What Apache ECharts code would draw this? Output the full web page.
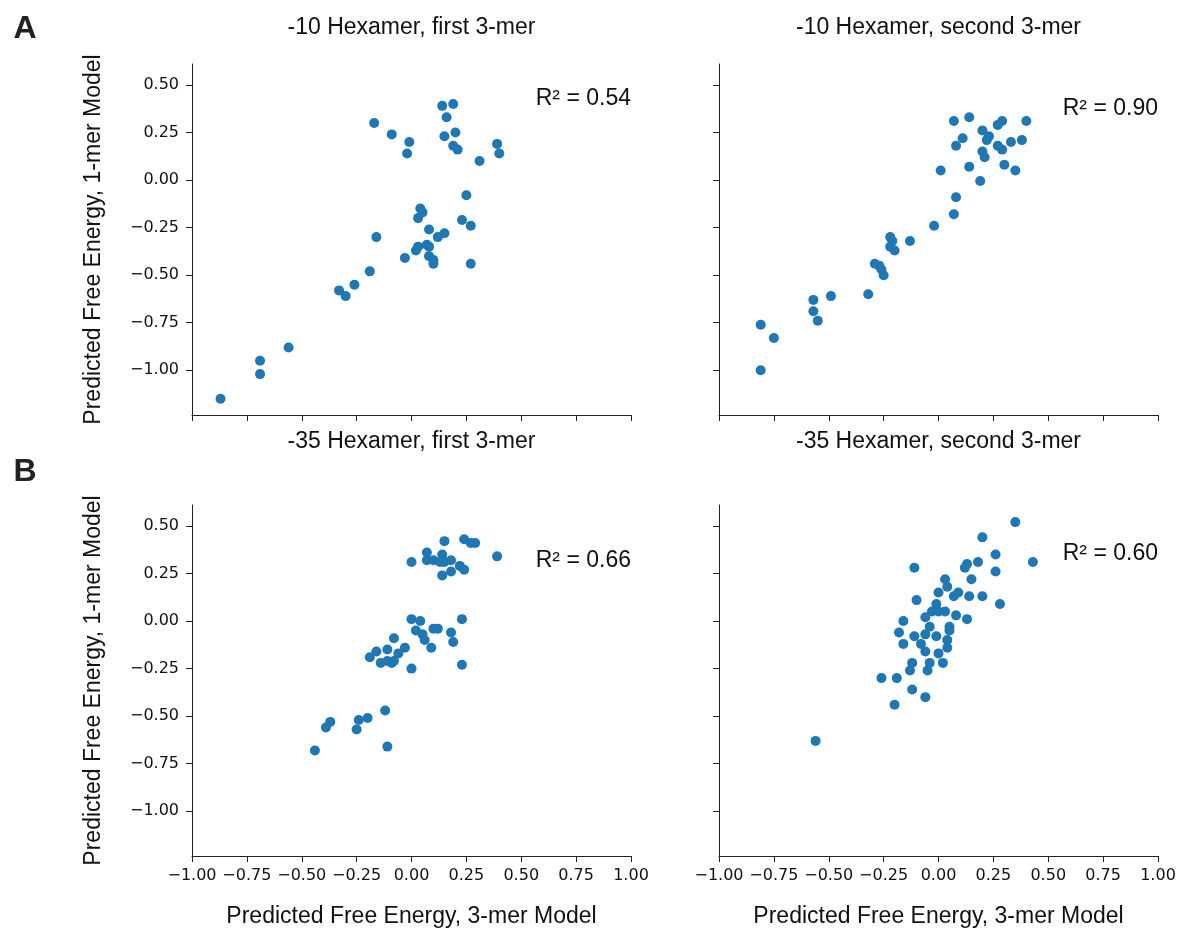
<!DOCTYPE html>
<html lang="en">

<head>
    <meta charset="UTF-8">
    <title>Hexamer 3-mer vs 1-mer</title>
    <script src="https://cdn.jsdelivr.net/npm/echarts@6/dist/echarts.min.js"></script>
    <style>
        body { margin: 0; background: #fff; }
    </style>
</head>

<body>
    <div id="main" style="width: 1180px;height:930px;"></div>

    <script>
        // panel titles and R² values
        var titles = ['-10 Hexamer, first 3-mer', '-10 Hexamer, second 3-mer', '-35 Hexamer, first 3-mer', '-35 Hexamer, second 3-mer'];
        var r2Labels = ['R\u00b2 = 0.54', 'R\u00b2 = 0.90', 'R\u00b2 = 0.66', 'R\u00b2 = 0.60'];
        var yTicks = [-1, -0.75, -0.5, -0.25, 0, 0.25, 0.5];

        // A, first 3-mer
        var aFirstX = [-0.17, -0.09, -0.01, -0.02, 0.14, 0.19, 0.16, 0.15, 0.20, 0.19, 0.21, 0.31, 0.39, 0.40, 0.25, 0.04, 0.05, 0.03, 0.23, 0.27, 0.08, 0.15, 0.12, -0.16, 0.03, 0.02, 0.07, 0.08, -0.03, 0.08, 0.10, 0.10, 0.27, -0.19, -0.33, -0.26, -0.30, -0.56, -0.69, -0.69, -0.87];
        var aFirstY = [0.30, 0.24, 0.20, 0.14, 0.39, 0.40, 0.33, 0.23, 0.25, 0.18, 0.16, 0.10, 0.19, 0.14, -0.08, -0.15, -0.17, -0.20, -0.21, -0.24, -0.26, -0.28, -0.30, -0.30, -0.35, -0.37, -0.34, -0.35, -0.41, -0.40, -0.42, -0.44, -0.44, -0.48, -0.58, -0.55, -0.61, -0.88, -0.95, -1.02, -1.15];
        // A, second 3-mer
        var aSecondX = [0.07, 0.14, 0.20, 0.11, 0.08, 0.27, 0.29, 0.40, 0.23, 0.22, 0.27, 0.29, 0.33, 0.38, 0.20, 0.21, 0.14, 0.30, 0.35, 0.01, 0.19, 0.08, 0.07, -0.02, -0.13, -0.22, -0.21, -0.22, -0.20, -0.29, -0.27, -0.26, -0.25, -0.32, -0.49, -0.57, -0.57, -0.55, -0.81, -0.75, -0.81];
        var aSecondY = [0.31, 0.33, 0.26, 0.22, 0.18, 0.29, 0.31, 0.31, 0.23, 0.21, 0.18, 0.16, 0.20, 0.21, 0.15, 0.12, 0.07, 0.08, 0.05, 0.05, -0.005, -0.09, -0.18, -0.24, -0.32, -0.30, -0.32, -0.35, -0.37, -0.44, -0.45, -0.47, -0.50, -0.60, -0.61, -0.63, -0.69, -0.74, -0.76, -0.83, -1.00];
        // B, first 3-mer
        var bFirstX = [0.15, 0.24, 0.27, 0.29, 0.39, 0.07, 0.00, 0.07, 0.10, 0.14, 0.13, 0.15, 0.18, 0.22, 0.24, 0.18, 0.14, 0.00, 0.04, 0.23, 0.02, 0.10, 0.12, 0.18, 0.05, 0.06, 0.19, -0.08, 0.09, -0.03, -0.11, -0.16, -0.06, -0.19, -0.11, -0.08, -0.14, -0.09, 0.00, 0.23, -0.12, -0.20, -0.24, -0.37, -0.39, -0.25, -0.44, -0.11];
        var bFirstY = [0.42, 0.43, 0.41, 0.41, 0.34, 0.36, 0.31, 0.32, 0.32, 0.35, 0.31, 0.31, 0.32, 0.29, 0.27, 0.26, 0.24, 0.01, 0.00, 0.01, -0.05, -0.04, -0.04, -0.06, -0.07, -0.10, -0.11, -0.09, -0.14, -0.14, -0.15, -0.16, -0.17, -0.19, -0.21, -0.21, -0.22, -0.22, -0.25, -0.23, -0.47, -0.51, -0.52, -0.53, -0.56, -0.57, -0.68, -0.66];
        // B, second 3-mer
        var bSecondX = [0.35, 0.20, 0.43, 0.26, 0.26, 0.18, 0.13, 0.12, -0.11, 0.03, 0.15, 0.04, 0.00, 0.09, 0.07, 0.14, 0.20, -0.10, 0.28, -0.01, -0.03, 0.00, 0.03, -0.06, 0.08, 0.13, -0.16, -0.04, 0.05, 0.05, -0.18, -0.11, -0.06, -0.01, -0.08, 0.04, 0.04, -0.16, -0.06, 0.00, -0.12, -0.04, 0.02, -0.13, -0.05, -0.26, -0.19, -0.12, -0.06, -0.20, -0.56];
        var bSecondY = [0.52, 0.44, 0.31, 0.35, 0.26, 0.31, 0.30, 0.28, 0.28, 0.22, 0.22, 0.18, 0.15, 0.15, 0.13, 0.13, 0.13, 0.11, 0.09, 0.09, 0.05, 0.05, 0.05, 0.02, 0.03, 0.01, 0.00, -0.03, -0.03, -0.05, -0.06, -0.08, -0.07, -0.08, -0.12, -0.10, -0.14, -0.12, -0.16, -0.17, -0.22, -0.22, -0.22, -0.26, -0.26, -0.30, -0.30, -0.36, -0.40, -0.44, -0.63];

        var panelsX = [aFirstX, aSecondX, bFirstX, bSecondX];
        var panelsY = [aFirstY, aSecondY, bFirstY, bSecondY];

        var myChart = echarts.init(document.getElementById('main'));

        var textFont = '"Liberation Sans", Arial, sans-serif';
        var tickFont = '"DejaVu Sans", sans-serif';
        var gridLefts = [192, 719];
        var gridTops = [64, 505];
        var titleYs = [28, 442];
        var gridW = 439, gridH = 351;

        function fmt(v) {
            var s = Math.abs(v).toFixed(2);
            return v < -1e-9 ? '\u2212' + s : s;
        }

        var grids = [], xAxes = [], yAxes = [], series = [], graphics = [];
        for (var i = 0; i < 4; i++) {
            var col = i % 2, row = Math.floor(i / 2);
            var gl = gridLefts[col], gt = gridTops[row];
            grids.push({ left: gl, top: gt, width: gridW, height: gridH });

            xAxes.push({
                gridIndex: i, type: 'value', min: -1, max: 1, interval: 0.25,
                axisLine: { show: true, onZero: false, lineStyle: { color: '#222', width: 1 } },
                axisTick: { show: true, length: 6, lineStyle: { color: '#222' } },
                axisLabel: { show: row === 1, margin: 12, fontSize: 16, color: '#111', fontFamily: tickFont, formatter: fmt },
                splitLine: { show: false },
                name: row === 1 ? 'Predicted Free Energy, 3-mer Model' : '',
                nameLocation: 'middle', nameGap: 49,
                nameTextStyle: { fontSize: 23, color: '#111', fontFamily: textFont }
            });

            yAxes.push({
                gridIndex: i, type: 'value', min: -1.235, max: 0.61,
                axisLine: { show: true, onZero: false, lineStyle: { color: '#222', width: 1 } },
                axisTick: { show: true, length: 6, customValues: yTicks, lineStyle: { color: '#222' } },
                axisLabel: { show: col === 0, margin: 13, fontSize: 16, color: '#111', fontFamily: tickFont, customValues: yTicks, formatter: fmt },
                splitLine: { show: false },
                name: col === 0 ? 'Predicted Free Energy, 1-mer Model' : '',
                nameLocation: 'middle', nameRotate: 90, nameGap: 87,
                nameTextStyle: { fontSize: 23, color: '#111', fontFamily: textFont }
            });

            var pts = [];
            for (var k = 0; k < panelsX[i].length; k++) {
                pts.push([panelsX[i][k], panelsY[i][k]]);
            }
            series.push({
                type: 'scatter', xAxisIndex: i, yAxisIndex: i,
                symbol: 'circle', symbolSize: 10,
                itemStyle: { color: '#1f77b4', opacity: 1 },
                data: pts
            });

            // panel title
            graphics.push({
                type: 'text', x: gl + gridW / 2, y: titleYs[row],
                style: { text: titles[i], font: '23px ' + textFont, fill: '#111', align: 'center', verticalAlign: 'middle' }
            });
        }

        // R² annotations
        var r2Pos = [[631, 99], [1158, 109], [631, 561], [1158, 554]];
        for (var j = 0; j < 4; j++) {
            graphics.push({
                type: 'text', x: r2Pos[j][0], y: r2Pos[j][1],
                style: { text: r2Labels[j], font: '23px ' + textFont, fill: '#111', align: 'right', verticalAlign: 'middle' }
            });
        }
        // panel letters
        graphics.push({ type: 'text', x: 25, y: 29, style: { text: 'A', font: 'bold 32px ' + textFont, fill: '#222', align: 'center', verticalAlign: 'middle' } });
        graphics.push({ type: 'text', x: 25, y: 472, style: { text: 'B', font: 'bold 32px ' + textFont, fill: '#222', align: 'center', verticalAlign: 'middle' } });

        var option = {
            animation: false,
            backgroundColor: '#fff',
            grid: grids,
            xAxis: xAxes,
            yAxis: yAxes,
            series: series,
            graphic: graphics
        };

        myChart.setOption(option);
    </script>
</body>

</html>
